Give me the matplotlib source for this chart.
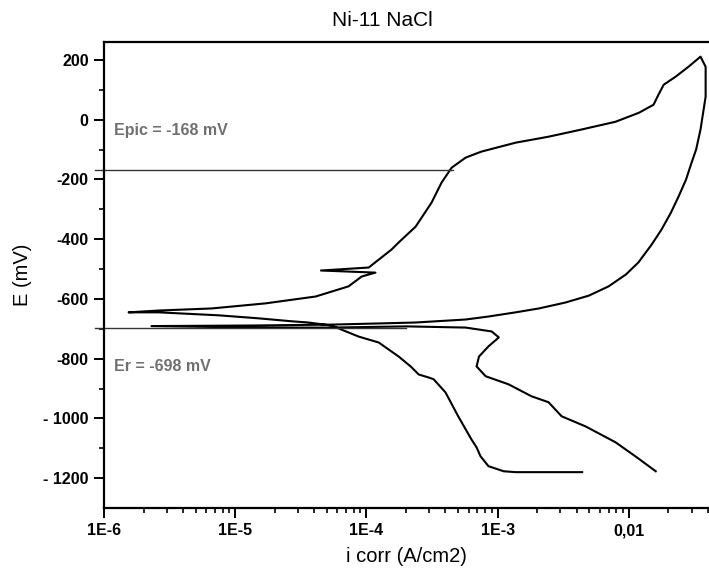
import numpy as np
import matplotlib
matplotlib.use("Agg")
import matplotlib.pyplot as plt
from matplotlib.ticker import FixedLocator, LogLocator, NullFormatter

plt.rcParams['font.family'] = ['Liberation Sans', 'DejaVu Sans']
plt.rcParams['axes.unicode_minus'] = False

# cyclic polarization curve
# current density (A/cm2) and potential (mV), in scan order
i_corr = [
    4.4e-3, 1.37e-3, 1.11e-3, 8.5e-4, 7.4e-4, 6.9e-4, 6.3e-4, 5.0e-4, 4.0e-4,
    3.25e-4, 2.97e-4, 2.5e-4, 2.17e-4, 1.76e-4, 1.24e-4, 8.7e-5, 5.4e-5,
    3.6e-5, 2.7e-5, 1.5e-5, 7.5e-6, 2.6e-6, 1.54e-6,
    2.6e-6, 6.6e-6, 1.7e-5, 4.1e-5, 7.3e-5, 9.2e-5, 1.17e-4, 4.5e-5, 1.04e-4,
    1.55e-4, 1.76e-4, 2.37e-4, 3.13e-4, 3.73e-4, 4.45e-4, 5.7e-4, 7.5e-4,
    1.37e-3, 2.44e-3, 4.35e-3, 7.9e-3, 1.19e-2, 1.54e-2, 1.68e-2, 1.84e-2,
    2.27e-2, 2.84e-2, 3.51e-2,
    3.84e-2, 3.84e-2, 3.51e-2, 3.25e-2, 3.0e-2, 2.72e-2, 2.39e-2, 2.09e-2,
    1.77e-2, 1.49e-2, 1.18e-2, 9.5e-3, 7.0e-3, 4.95e-3, 3.29e-3, 2.06e-3,
    1.37e-3, 8.5e-4, 5.7e-4, 2.37e-4, 1.30e-4, 5.4e-5, 1.43e-5, 2.3e-6,
    1.43e-5, 5.4e-5, 2.02e-4, 5.7e-4, 9.0e-4, 1.02e-3, 8.5e-4, 7.2e-4,
    6.9e-4, 8.1e-4, 1.21e-3, 1.81e-3, 2.44e-3, 3.07e-3, 4.68e-3, 7.9e-3,
    1.12e-2, 1.60e-2,
]
potential = [
    -1180, -1180, -1177, -1160, -1127, -1097, -1070, -993, -913,
    -869, -863, -853, -826, -793, -746, -726, -689,
    -679, -675, -665, -655, -645, -645,
    -639, -632, -615, -592, -558, -525, -512, -505, -495,
    -435, -411, -358, -278, -211, -161, -127, -107,
    -77, -57, -33, -7, 23, 50, 84, 117,
    144, 177, 211,
    177, 77, -33, -100, -144, -201, -257, -311,
    -368, -418, -478, -518, -558, -589, -612, -632,
    -645, -659, -669, -679, -682, -686, -689, -691,
    -696, -696, -692, -696, -709, -729, -759, -793,
    -826, -859, -886, -926, -946, -993, -1027, -1080,
    -1127, -1177,
]

E_pic = -168
E_r = -698

x_ticks = [1e-6, 1e-5, 1e-4, 1e-3, 1e-2]
x_labels = ["1E-6", "1E-5", "1E-4", "1E-3", "0,01"]
y_ticks = [200, 0, -200, -400, -600, -800, -1000, -1200]
y_labels = ["200", "0", "-200", "-400", "-600", "-800", "- 1000", "- 1200"]

fig = plt.figure(figsize=(7.09, 5.82), dpi=100)
ax = fig.add_axes([104 / 709, 1 - 508 / 582, 1 - 104 / 709, (508 - 42) / 582])

ax.plot(i_corr, potential, color='black', lw=1.5, solid_joinstyle='round')

# reference lines for the pitting and rest potentials
ax.plot([8.6e-7, 4.6e-4], [E_pic, E_pic], color='#333333', lw=1.0, clip_on=False)
ax.plot([8.6e-7, 2.0e-4], [E_r, E_r], color='#333333', lw=1.0, clip_on=False)

ax.text(1.2e-6, -35, "Epic = -168 mV", color='#707070', fontsize=11.5,
        fontweight='bold', va='center', ha='left')
ax.text(1.2e-6, -825, "Er = -698 mV", color='#707070', fontsize=11.5,
        fontweight='bold', va='center', ha='left')

ax.set_xscale('log')
ax.set_xlim(1e-6, 10 ** -1.39)
ax.set_ylim(-1300, 260)

ax.xaxis.set_major_locator(FixedLocator(x_ticks))
ax.set_xticklabels(x_labels)
ax.xaxis.set_minor_locator(LogLocator(base=10, subs=np.arange(2, 10)))
ax.xaxis.set_minor_formatter(NullFormatter())
ax.set_yticks(y_ticks)
ax.set_yticklabels(y_labels)
ax.yaxis.set_minor_locator(FixedLocator([100, -100, -300, -500, -700, -900, -1100]))

ax.tick_params(which='major', direction='out', length=7, width=1.4,
               labelsize=11.5, pad=4)
ax.tick_params(which='minor', direction='out', length=3.5, width=1.2)
for lab in ax.get_xticklabels() + ax.get_yticklabels():
    lab.set_fontweight('bold')

for side in ['left', 'bottom', 'top']:
    ax.spines[side].set_linewidth(1.6)
ax.spines['right'].set_visible(False)

ax.set_xlabel("i corr (A/cm2)", fontsize=14.5, labelpad=6)
ax.set_ylabel("E (mV)", fontsize=14.5, labelpad=8)
fig.text(382 / 709, 1 - 20 / 582, "Ni-11 NaCl", fontsize=15, ha='center', va='center')

fig.savefig("out.png", dpi=100)
